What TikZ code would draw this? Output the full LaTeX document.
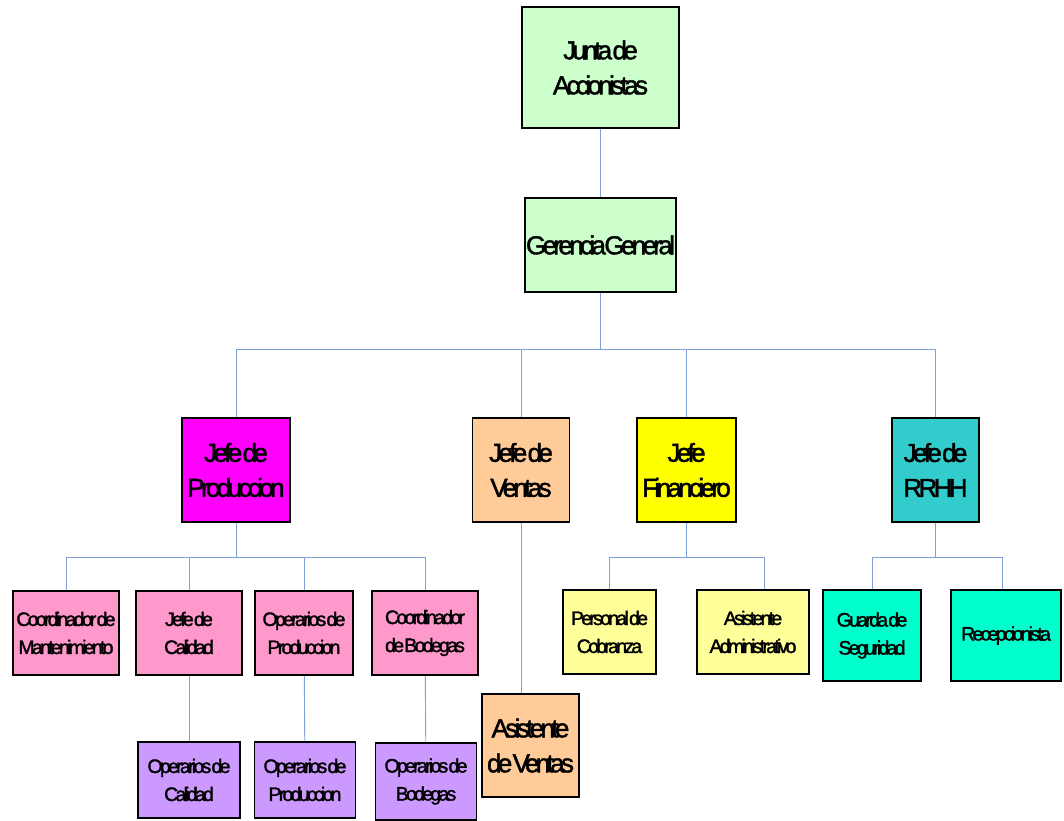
\documentclass[tikz,border=0pt]{standalone}
\usepackage{fontspec}
\setmainfont{Liberation Sans}[LetterSpace=-14,WordSpace=0.1,FakeBold=1.6]
\usetikzlibrary{positioning,calc}

\definecolor{verde}{HTML}{CCFFCC}
\definecolor{magenta}{HTML}{FF00FF}
\definecolor{durazno}{HTML}{FFCC99}
\definecolor{amarillo}{HTML}{FFFF00}
\definecolor{turquesa}{HTML}{33CCCC}
\definecolor{rosa}{HTML}{FF99CC}
\definecolor{lila}{HTML}{CC99FF}
\definecolor{crema}{HTML}{FFFF99}
\definecolor{aqua}{HTML}{00FFCC}
\definecolor{linea}{HTML}{7FA0D8}

\tikzset{
  caja/.style={draw=black,line width=1.8pt,align=center,inner sep=0pt},
  grande/.style={font=\fontsize{26}{35}\selectfont},
  chica/.style={font=\fontsize{19.5}{28}\selectfont},
  enlace/.style={draw=linea,line width=0.9pt},
}

\begin{document}
\begin{tikzpicture}[x=1pt,y=-1pt]
\useasboundingbox (0,0) rectangle (1064,820);

% Direction
\node[caja,grande,fill=verde,minimum width=157pt,minimum height=121pt] (junta) at (600.5,67.5) {Junta de\\Accionistas};
\node[caja,grande,fill=verde,minimum width=151pt,minimum height=94pt] (gerencia) at (600.5,245) {Gerencia\hspace{-2pt} General};

% Jefes
\node[caja,grande,fill=magenta,minimum width=108pt,minimum height=104pt] (jprod) at (236,470) {Jefe de\\Produccion};
\node[caja,grande,fill=durazno,minimum width=97pt,minimum height=104pt] (jventas) at (521,470) {Jefe de\\Ventas};
\node[caja,grande,fill=amarillo,minimum width=99pt,minimum height=104pt] (jfin) at (686.5,470) {Jefe\\Financiero};
\node[caja,grande,fill=turquesa,minimum width=87pt,minimum height=104pt] (jrrhh) at (935.5,470) {Jefe de\\RRHH};

% Produccion
\node[caja,chica,fill=rosa,minimum width=106pt,minimum height=84pt] (cmant) at (66,633) {Coordinador de\\Mantenimiento};
\node[caja,chica,fill=rosa,minimum width=106pt,minimum height=84pt] (jcal) at (189,633) {Jefe de\\Calidad};
\node[caja,chica,fill=rosa,minimum width=98pt,minimum height=84pt] (oprod) at (304,633) {Operarios de\\Produccion};
\node[caja,chica,fill=rosa,minimum width=106pt,minimum height=84pt] (cbod) at (425,633) {Coordinador\\de Bodegas};

\node[caja,chica,fill=lila,minimum width=102pt,minimum height=76pt] (opcal) at (189,780) {Operarios de\\Calidad};
\node[caja,chica,fill=lila,minimum width=101pt,minimum height=76pt] (opprod) at (305,780) {Operarios de\\Produccion};
\node[caja,chica,fill=lila,minimum width=101pt,minimum height=77pt] (opbod) at (426,781.5) {Operarios de\\Bodegas};

% Ventas
\node[caja,grande,fill=durazno,minimum width=97pt,minimum height=103pt] (aventas) at (530.5,745.5) {Asistente\\de Ventas};

% Finanzas
\node[caja,chica,fill=crema,minimum width=93pt,minimum height=84pt] (pcob) at (609.5,632) {Personal de\\Cobranza};
\node[caja,chica,fill=crema,minimum width=112pt,minimum height=84pt] (aadm) at (753,632) {Asistente\\Administrativo};

% RRHH
\node[caja,chica,fill=aqua,minimum width=98pt,minimum height=91pt] (guarda) at (872,635.5) {Guarda de\\Seguridad};
\node[caja,chica,fill=aqua,minimum width=110pt,minimum height=91pt] (recep) at (1006,635.5) {Recepcionista};

% Connectors
\draw[enlace] (junta) -- (gerencia);
\foreach \n in {jprod,jventas,jfin,jrrhh}
  \draw[enlace] (gerencia.south) -- ++(0,57) -| (\n.north);
\foreach \n in {cmant,jcal,oprod,cbod}
  \draw[enlace] (jprod.south) -- ++(0,35) -| (\n.north);
\draw[enlace] (jcal) -- (opcal);
\draw[enlace] (oprod) -- (opprod);
\draw[enlace] (cbod) -- (opbod);
\draw[enlace] (jventas.south) -- (jventas.south |- aventas.north);
\draw[enlace] (jfin.south) -- ++(0,35) -| (pcob.north);
\draw[enlace] (jfin.south) -- ++(0,35) -| ([xshift=11pt]aadm.north);
\draw[enlace] (jrrhh.south) -- ++(0,35) -| (guarda.north);
\draw[enlace] (jrrhh.south) -- ++(0,35) -| ([xshift=-4pt]recep.north);

\end{tikzpicture}
\end{document}
